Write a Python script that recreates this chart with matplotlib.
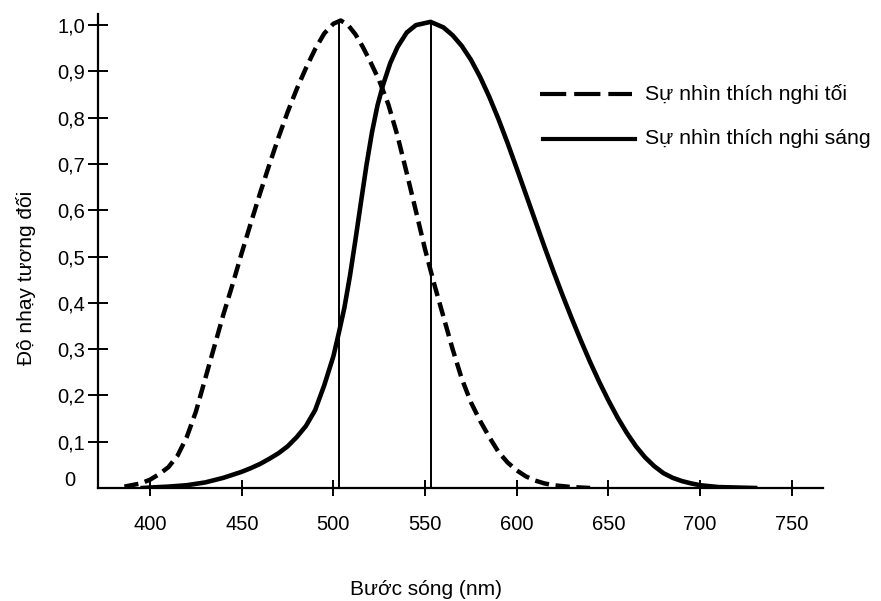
import matplotlib
matplotlib.use("Agg")
import matplotlib.pyplot as plt
from matplotlib.lines import Line2D

plt.rcParams['font.family'] = ['Liberation Sans', 'DejaVu Sans']

# Đường cong thích nghi tối (nét đứt)
toi_nm = [386, 395, 400, 405, 410, 415, 420, 425, 430, 435, 440, 445, 450, 455,
          460, 465, 470, 475, 480, 485, 490, 495, 500, 504, 508, 512, 516, 520,
          525, 530, 535, 540, 545, 550, 555, 560, 565, 570, 575, 580, 585, 590,
          595, 600, 605, 610, 615, 620, 630, 640]
toi_val = [0.003, 0.010, 0.018, 0.030, 0.045, 0.070, 0.110, 0.165, 0.235, 0.305,
           0.375, 0.440, 0.508, 0.573, 0.637, 0.698, 0.757, 0.812, 0.862, 0.907,
           0.948, 0.982, 1.003, 1.010, 1.000, 0.980, 0.953, 0.922, 0.880, 0.828,
           0.760, 0.680, 0.598, 0.515, 0.440, 0.370, 0.300, 0.236, 0.185, 0.145,
           0.110, 0.078, 0.055, 0.038, 0.025, 0.016, 0.010, 0.006, 0.002, 0.000]

# Đường cong thích nghi sáng (nét liền)
sang_nm = [396, 400, 410, 420, 430, 440, 450, 455, 460, 465, 470, 475, 480, 485,
           490, 495, 500, 503, 506, 509, 512, 515, 518, 521, 524, 527, 531, 535,
           540, 545, 553, 560, 565, 570, 575, 580, 585, 590, 595, 600, 605, 610,
           615, 620, 625, 630, 635, 640, 645, 650, 655, 660, 665, 670, 675, 680,
           685, 690, 695, 700, 705, 710, 720, 730]
sang_val = [0.000, 0.001, 0.003, 0.006, 0.012, 0.022, 0.035, 0.043, 0.052, 0.063,
            0.075, 0.090, 0.110, 0.134, 0.168, 0.222, 0.285, 0.336, 0.390, 0.458,
            0.536, 0.617, 0.697, 0.768, 0.826, 0.870, 0.918, 0.953, 0.984, 1.000,
            1.007, 0.995, 0.978, 0.955, 0.925, 0.888, 0.845, 0.797, 0.745, 0.690,
            0.634, 0.578, 0.522, 0.468, 0.416, 0.366, 0.318, 0.272, 0.229, 0.189,
            0.152, 0.119, 0.090, 0.066, 0.047, 0.032, 0.022, 0.015, 0.010, 0.006,
            0.004, 0.002, 0.001, 0.000]

# Vạch đứng tại đỉnh
dinh_nm = [503, 553]
dinh_val = [1.01, 1.01]

x_ticks = [400, 450, 500, 550, 600, 650, 700, 750]
y_ticks = [0.1, 0.2, 0.3, 0.4, 0.5, 0.6, 0.7, 0.8, 0.9, 1.0]
y_labels = ['0,1', '0,2', '0,3', '0,4', '0,5', '0,6', '0,7', '0,8', '0,9', '1,0']

W, H = 881, 601
fig = plt.figure(figsize=(W / 100, H / 100), dpi=100)
ax = fig.add_axes([98 / W, (H - 488) / H, 725 / W, 474 / H])

ax.plot(toi_nm, toi_val, color='black', linewidth=3.2, dashes=(3.2, 1.5),
        solid_capstyle='butt', dash_capstyle='butt', zorder=3)
ax.plot(sang_nm, sang_val, color='black', linewidth=3.3, solid_joinstyle='round', zorder=3)
ax.vlines(dinh_nm, 0, dinh_val, color='black', linewidth=1.4, zorder=2)

ax.set_xlim(371.6, 767)
ax.set_ylim(0, 1.024)
for s in ['top', 'right']:
    ax.spines[s].set_visible(False)
for s in ['left', 'bottom']:
    ax.spines[s].set_linewidth(1.6)

ax.set_xticks(x_ticks)
ax.set_yticks(y_ticks)
ax.set_yticklabels(y_labels)
ax.tick_params(axis='y', direction='inout', length=15, width=1.4, pad=2, labelsize=14.5)
ax.tick_params(axis='x', direction='inout', length=11, width=1.4, pad=14, labelsize=14.5)
ax.text(-23 / 725, 8 / 474, '0', transform=ax.transAxes, fontsize=14.5, ha='right', va='center')

ax.set_xlabel('Bước sóng (nm)', fontsize=15)
ax.xaxis.set_label_coords(328 / 725, -92 / 474)
ax.set_ylabel('Độ nhạy tương đối', fontsize=15)
ax.yaxis.set_label_coords(-62 / 725, 210 / 474)

# Chú thích
def px(x, y):
    return x / W, 1 - y / H

l1 = Line2D([px(540, 94)[0], px(632, 94)[0]], [px(540, 94)[1]] * 2, color='black',
            linewidth=3.0, dashes=(6.3, 1.9), dash_capstyle='butt')
l2 = Line2D([px(543, 139)[0], px(635, 139)[0]], [px(543, 139)[1]] * 2, color='black',
            linewidth=3.0)
fig.add_artist(l1)
fig.add_artist(l2)
fig.text(*px(645, 94), 'Sự nhìn thích nghi tối', fontsize=15.3, va='center', ha='left')
fig.text(*px(645, 139), 'Sự nhìn thích nghi sáng', fontsize=15.3, va='center', ha='left')

fig.savefig('out.png', dpi=100)
